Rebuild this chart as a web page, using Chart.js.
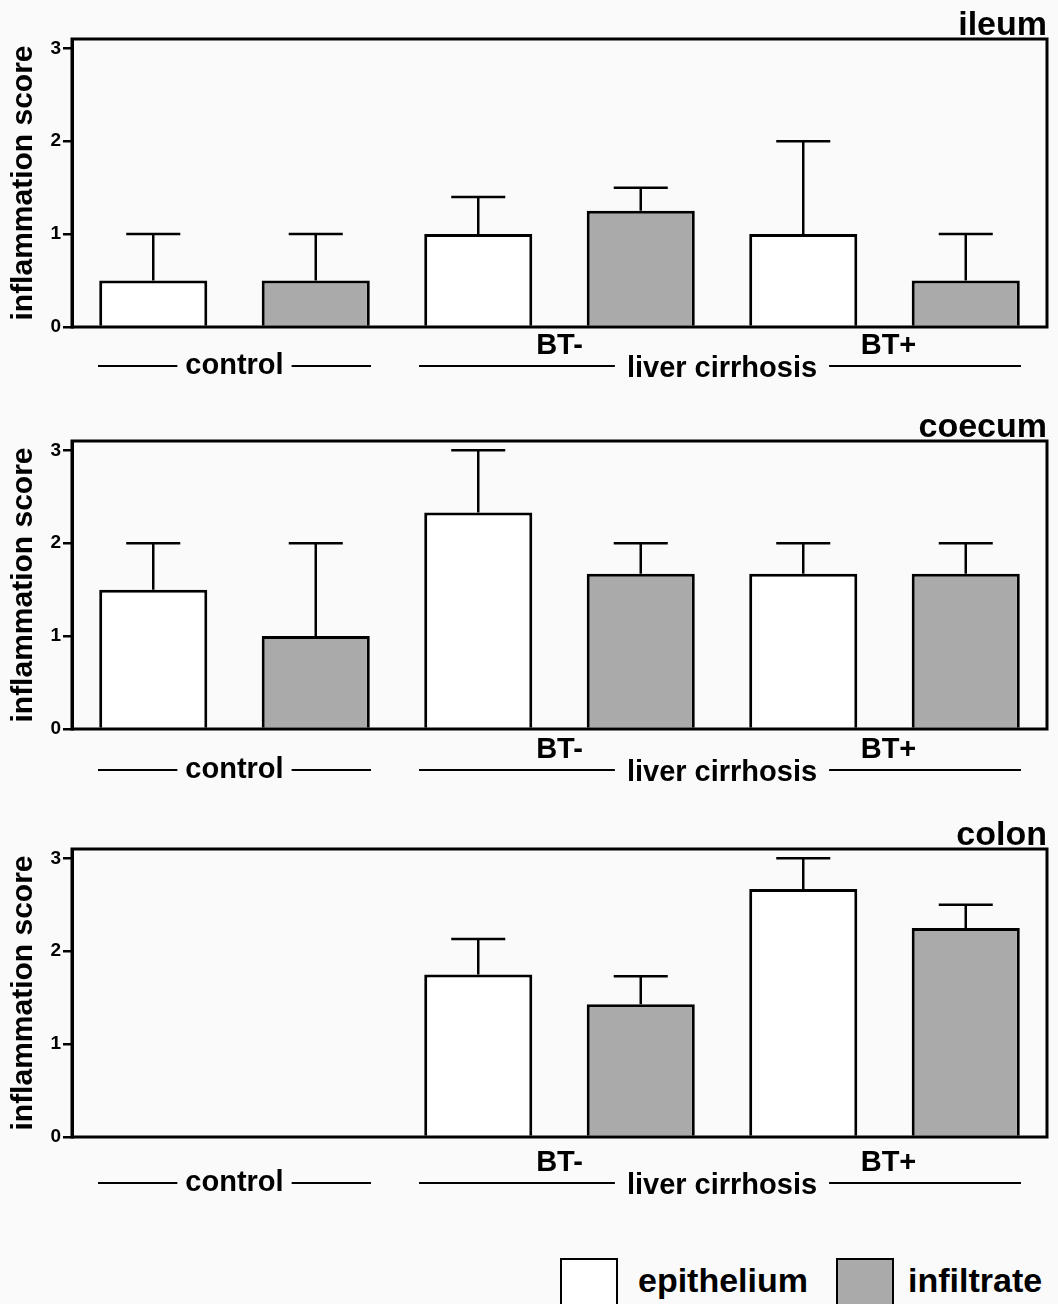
<!DOCTYPE html>
<html lang="en">
<head>
<meta charset="UTF-8">
<title>Inflammation score</title>
<script src="https://cdn.jsdelivr.net/npm/chart.js@4"></script>
<style>
    body { margin: 0; background: #fafafa; font-family: "Liberation Sans", Arial, sans-serif; }
    #wrap { position: relative; width: 1058px; height: 1304px; overflow: hidden; }
    #wrap canvas { position: absolute; left: 0; }
    .box { position: absolute; top: 1258px; width: 54px; height: 60px; border: 2px solid #000; }
    .key { position: absolute; top: 1263px; font-weight: bold; font-size: 34px; line-height: 34px; color: #000; }
</style>
</head>
<body>
<div id="wrap">
    <canvas id="ileum" width="1058" height="400" style="top:0px"></canvas>
    <canvas id="coecum" width="1058" height="400" style="top:402px"></canvas>
    <canvas id="colon" width="1058" height="400" style="top:810px"></canvas>

    <!-- leyenda -->
    <div class="box" style="left:560px; background:#ffffff"></div>
    <div class="key" style="left:638px">epithelium</div>
    <div class="box" style="left:836px; background:#aaaaaa"></div>
    <div class="key" style="left:908px">infiltrate</div>
</div>

<script>
// grupos y tejidos
const groups = ['control', 'BT-', 'BT+'];
const tissues = ['ileum', 'coecum', 'colon'];
const yTicks = [0, 1, 2, 3];

// medias y error (solo hacia arriba)
const ileumEpithelium = [0.5, 1.0, 1.0];
const ileumInfiltrate = [0.5, 1.25, 0.5];
const ileumEpitheliumErr = [0.5, 0.4, 1.0];
const ileumInfiltrateErr = [0.5, 0.25, 0.5];

const coecumEpithelium = [1.5, 2.33, 1.67];
const coecumInfiltrate = [1.0, 1.67, 1.67];
const coecumEpitheliumErr = [0.5, 0.67, 0.33];
const coecumInfiltrateErr = [1.0, 0.33, 0.33];

const colonEpithelium = [0, 1.75, 2.67];
const colonInfiltrate = [0, 1.43, 2.25];
const colonEpitheliumErr = [0, 0.38, 0.33];
const colonInfiltrateErr = [0, 0.3, 0.25];

const FONT = '"Liberation Sans", Arial, sans-serif';

// barras de error
const errorBars = {
    id: 'errorBars',
    afterDatasetsDraw(chart) {
        const ctx = chart.ctx;
        const y = chart.scales.y;
        ctx.save();
        ctx.strokeStyle = '#000';
        ctx.lineWidth = 2.5;
        chart.data.datasets.forEach((ds, i) => {
            chart.getDatasetMeta(i).data.forEach((bar, j) => {
                const err = ds.errors[j];
                if (!err) return;
                const top = y.getPixelForValue(ds.data[j] + err);
                const half = bar.width / 4;
                ctx.beginPath();
                ctx.moveTo(bar.x, bar.y);
                ctx.lineTo(bar.x, top);
                ctx.moveTo(bar.x - half, top);
                ctx.lineTo(bar.x + half, top);
                ctx.stroke();
            });
        });
        ctx.restore();
    }
};

// marco, titulo del panel y etiquetas de grupo
const decorations = {
    id: 'decorations',
    afterDraw(chart, args, opts) {
        const { ctx, chartArea: a, scales: { x } } = chart;
        ctx.save();
        ctx.strokeStyle = '#000';
        ctx.fillStyle = '#000';
        ctx.lineWidth = 3;
        ctx.strokeRect(a.left, a.top, a.right - a.left, a.bottom - a.top);

        // titulo
        ctx.font = 'bold 34px ' + FONT;
        ctx.textAlign = 'right';
        ctx.textBaseline = 'alphabetic';
        ctx.fillText(opts.title, a.right, a.top - 4);

        const cw = x.width / groups.length;
        const inset = 26;
        const lineY = a.bottom + opts.offset;
        ctx.font = 'bold 29px ' + FONT;
        ctx.textAlign = 'center';
        ctx.textBaseline = 'middle';
        ctx.lineWidth = 2;

        const span = (x0, x1, text, tx, ty, gap) => {
            const w = ctx.measureText(text).width;
            ctx.beginPath();
            ctx.moveTo(x0, lineY);
            ctx.lineTo(tx - w / 2 - gap, lineY);
            ctx.moveTo(tx + w / 2 + gap, lineY);
            ctx.lineTo(x1, lineY);
            ctx.stroke();
            ctx.fillText(text, tx, ty);
        };

        const c0 = x.getPixelForValue(0);
        span(c0 - cw / 2 + inset, c0 + cw / 2 - inset, groups[0], c0, lineY, 8);

        const c1 = x.getPixelForValue(1);
        const c2 = x.getPixelForValue(2);
        span(c1 - cw / 2 + inset - 4, c2 + cw / 2 - inset, 'liver cirrhosis', (c1 + c2) / 2, lineY + 3, 12);
        ctx.fillText(groups[1], c1, lineY - 20);
        ctx.fillText(groups[2], c2 + 4, lineY - 20);
        ctx.restore();
    }
};

function buildChart(id, title, offset, epi, inf, epiErr, infErr) {
    return new Chart(document.getElementById(id), {
        type: 'bar',
        data: {
            labels: groups,
            datasets: [
                { label: 'epithelium', data: epi, errors: epiErr, backgroundColor: '#ffffff' },
                { label: 'infiltrate', data: inf, errors: infErr, backgroundColor: '#aaaaaa' }
            ]
        },
        options: {
            responsive: false,
            animation: false,
            devicePixelRatio: 1,
            layout: { padding: { top: 39, right: 11, bottom: 73, left: 0 } },
            datasets: {
                bar: {
                    borderColor: '#000',
                    borderWidth: 3,
                    categoryPercentage: 1,
                    barPercentage: 0.665
                }
            },
            scales: {
                x: { display: false },
                y: {
                    min: 0,
                    max: 3.1,
                    afterBuildTicks: axis => { axis.ticks = yTicks.map(v => ({ value: v })); },
                    afterFit: axis => { axis.width = 72; },
                    border: { display: true, color: '#000', width: 3 },
                    grid: { drawOnChartArea: false, drawTicks: true, tickLength: 9, color: '#000', lineWidth: 2.5 },
                    ticks: { color: '#000', padding: 2, font: { family: FONT, size: 19, weight: 'bold' } },
                    title: {
                        display: true,
                        text: 'inflammation score',
                        color: '#000',
                        padding: { top: 6, bottom: 0 },
                        font: { family: FONT, size: 30, weight: 'bold' }
                    }
                }
            },
            plugins: {
                legend: { display: false },
                tooltip: { enabled: false },
                decorations: { title: title, offset: offset }
            }
        },
        plugins: [errorBars, decorations]
    });
}

buildChart('ileum', tissues[0], 39, ileumEpithelium, ileumInfiltrate, ileumEpitheliumErr, ileumInfiltrateErr);
buildChart('coecum', tissues[1], 41, coecumEpithelium, coecumInfiltrate, coecumEpitheliumErr, coecumInfiltrateErr);
buildChart('colon', tissues[2], 46, colonEpithelium, colonInfiltrate, colonEpitheliumErr, colonInfiltrateErr);
</script>
</body>
</html>
